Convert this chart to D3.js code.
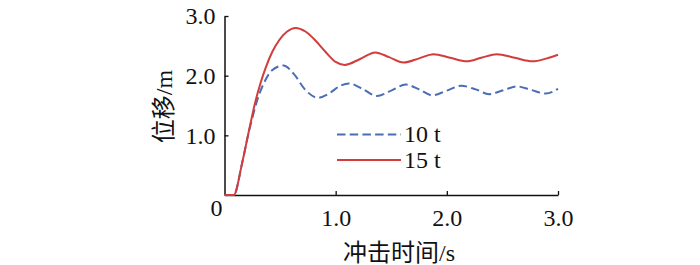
<!DOCTYPE html>
<html>
<head>
<meta charset="utf-8">
<script src="https://cdn.jsdelivr.net/npm/d3@7"></script>
<style>
  body { margin: 0; background: #fff; }
  svg { display: block; }
  text { font-family: "Liberation Serif", "Noto Sans CJK SC", serif; fill: #111; }
</style>
</head>
<body>
<svg id="chart" width="700" height="265"></svg>
<script>
// time (s) and displacement (m)
const time10 = [0, 0.083, 0.158, 0.218, 0.26, 0.293, 0.353, 0.428, 0.53, 0.623, 0.728, 0.84, 0.94,
    1.04, 1.12, 1.24, 1.37, 1.5, 1.63, 1.75, 1.87, 2.0, 2.13, 2.26, 2.38, 2.5, 2.63, 2.76, 2.89, 3.0];
const disp10 = [0, 0, 0.53, 1.05, 1.36, 1.58, 1.87, 2.09, 2.17, 2.03, 1.76, 1.63, 1.70,
    1.83, 1.87, 1.78, 1.66, 1.75, 1.85, 1.77, 1.67, 1.75, 1.83, 1.77, 1.69, 1.75, 1.82, 1.76, 1.70, 1.78];

const time15 = [0, 0.083, 0.158, 0.218, 0.277, 0.325, 0.37, 0.43, 0.49, 0.563, 0.64, 0.728, 0.818, 0.908,
    1.0, 1.08, 1.22, 1.356, 1.48, 1.61, 1.75, 1.88, 2.03, 2.18, 2.31, 2.45, 2.61, 2.77, 2.9, 3.0];
const disp15 = [0, 0, 0.53, 1.06, 1.56, 1.88, 2.13, 2.40, 2.59, 2.74, 2.80, 2.74, 2.59, 2.40,
    2.23, 2.18, 2.28, 2.39, 2.31, 2.22, 2.29, 2.36, 2.30, 2.24, 2.30, 2.36, 2.30, 2.24, 2.29, 2.35];

const xTicks = [1.0, 2.0, 3.0];
const yTicks = [1.0, 2.0, 3.0];
const legendLabels = ["10 t", "15 t"];

const svg = d3.select("#chart");
const plotLeft = 224.5, plotRight = 558, plotTop = 16, plotBottom = 195;

const x = d3.scaleLinear().domain([0, 3]).range([plotLeft, plotRight]);
const y = d3.scaleLinear().domain([0, 3]).range([plotBottom, plotTop]);

// axes: ticks point inward
svg.append("g")
    .attr("transform", `translate(0,${plotBottom})`)
    .call(d3.axisBottom(x).tickValues(xTicks).tickSize(-4).tickSizeOuter(0).tickFormat(d3.format(".1f")))
    .call(g => {
        g.select(".domain").attr("stroke", "#111").attr("stroke-width", 1.5);
        g.selectAll(".tick line").attr("stroke", "#111").attr("stroke-width", 1.3);
        g.selectAll(".tick text").attr("font-size", 24).attr("dy", 0).attr("y", 31)
            .attr("font-family", "Liberation Serif").attr("fill", "#111");
    });

svg.append("g")
    .attr("transform", `translate(${plotLeft},0)`)
    .call(d3.axisLeft(y).tickValues(yTicks).tickSize(-4).tickSizeOuter(0).tickFormat(d3.format(".1f")))
    .call(g => {
        g.select(".domain").attr("stroke", "#111").attr("stroke-width", 1.5);
        g.selectAll(".tick line").attr("stroke", "#111").attr("stroke-width", 1.3);
        g.selectAll(".tick text").attr("font-size", 24).attr("x", -9).attr("dy", "0.33em")
            .attr("font-family", "Liberation Serif").attr("fill", "#111");
    });

svg.append("text")
    .attr("x", 216.5).attr("y", 216)
    .attr("text-anchor", "middle").attr("font-size", 24)
    .text("0");

// axis titles
svg.append("text")
    .attr("x", 399).attr("y", 261)
    .attr("text-anchor", "middle").attr("font-size", 24)
    .text("冲击时间/s");

svg.append("text")
    .attr("transform", "translate(164,106.5) rotate(-90)")
    .attr("text-anchor", "middle").attr("dy", "0.35em").attr("font-size", 24)
    .text("位移/m");

// curves
const line = d3.line().x(d => x(d[0])).y(d => y(d[1])).curve(d3.curveMonotoneX);

svg.append("path")
    .datum(d3.zip(time10, disp10))
    .attr("d", line)
    .attr("fill", "none")
    .attr("stroke", "#4a6db5")
    .attr("stroke-width", 2)
    .attr("stroke-dasharray", "8.5,4.2");

svg.append("path")
    .datum(d3.zip(time15, disp15))
    .attr("d", line)
    .attr("fill", "none")
    .attr("stroke", "#d23c3c")
    .attr("stroke-width", 2);

// legend
const legend = svg.append("g");
const styles = [{ color: "#4a6db5", dash: "8.5,4.2" }, { color: "#d23c3c", dash: null }];
legendLabels.forEach((label, i) => {
    const ly = 134.5 + i * 25.5;
    legend.append("line")
        .attr("x1", 337).attr("x2", 401).attr("y1", ly).attr("y2", ly)
        .attr("stroke", styles[i].color).attr("stroke-width", 2)
        .attr("stroke-dasharray", styles[i].dash);
    legend.append("text")
        .attr("x", 404).attr("y", ly).attr("dy", "0.33em")
        .attr("font-size", 24)
        .text(label);
});
</script>
</body>
</html>
